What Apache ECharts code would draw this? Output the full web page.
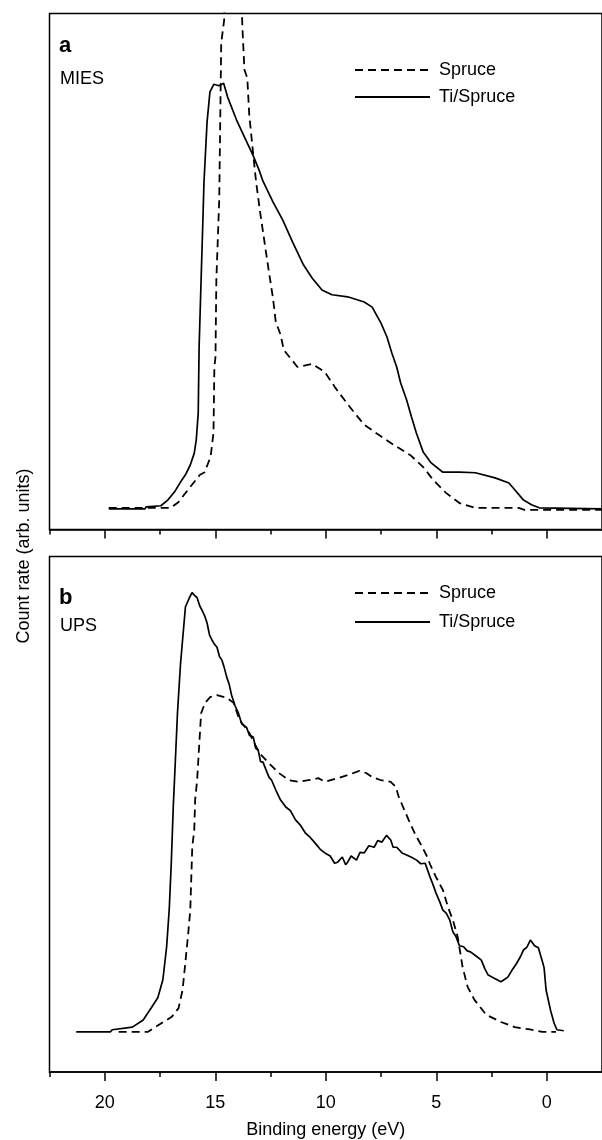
<!DOCTYPE html>
<html lang="en">
<head>
    <meta charset="UTF-8">
    <title>MIES / UPS spectra</title>
    <script src="https://cdn.jsdelivr.net/npm/echarts@6/dist/echarts.min.js"></script>
    <style>
        html, body { margin: 0; padding: 0; background: #fff; }
        #main { width: 602px; height: 1140px; }
    </style>
</head>
<body>
<div id="main"></div>
<script>
    // ---- panel a : MIES ----
    var miesSpruceE = [19.82, 17.02, 16.67, 16.14, 15.69, 15.48, 15.21, 15.08, 15.04, 14.99, 14.95, 14.82, 14.73, 14.60, 14.17,
        13.77, 13.68, 13.55, 13.46, 13.28, 13.15, 12.97, 12.84, 12.62, 12.39, 12.26, 12.04, 11.90, 11.28, 10.61, 10.04,
        9.59, 9.15, 8.70, 8.26, 7.59, 6.92, 6.17, 5.59, 5.14, 4.56, 3.94, 3.23, 1.27, 1.01, -2.5];
    var miesSpruceY = [4.2, 4.2, 5.3, 8.2, 10.6, 11.1, 14.1, 18.7, 31.5, 33.4, 48.4, 63.9, 94.3, 98.6, 150,
        97.2, 89.1, 87.5, 80.3, 72.6, 67.3, 61.5, 57.7, 51.3, 44.9, 40.2, 37.7, 34.8, 31.5, 32.1, 30.5,
        27.6, 25.1, 22.6, 20.3, 18.3, 16.4, 14.4, 12.1, 9.6, 7.1, 5.1, 4.2, 4.2, 3.8, 3.8];

    var miesTiE = [19.82, 18.18, 18.13, 17.46, 17.15, 16.84, 16.57, 16.35, 16.13, 15.95, 15.86, 15.77, 15.73, 15.64, 15.55,
        15.51, 15.37, 15.24, 15.06, 14.84, 14.62, 14.44, 14.04, 13.64, 13.28, 13.02, 12.84, 12.39, 11.95, 11.50, 11.01,
        10.61, 10.17, 9.72, 9.01, 8.26, 7.90, 7.50, 7.23, 7.01, 6.79, 6.61, 6.34, 6.12, 5.90, 5.59, 5.23, 4.70, 3.94,
        3.23, 2.34, 1.71, 1.45, 1.05, 0.69, 0.34, -2.5];
    var miesTiY = [4.0, 4.0, 4.4, 4.6, 5.7, 7.3, 9.2, 10.6, 12.5, 14.8, 17.3, 22.6, 35.4, 48.4, 61.3,
        67.3, 79.0, 84.8, 86.3, 86.0, 86.5, 83.8, 79.4, 75.7, 72.4, 69.7, 67.5, 63.5, 60.0, 55.7, 51.3,
        48.7, 46.4, 45.5, 45.1, 44.1, 43.1, 40.0, 37.3, 34.2, 31.5, 28.4, 25.1, 21.8, 18.7, 15.0, 12.9, 11.1, 11.1,
        11.0, 10.0, 9.0, 7.7, 5.7, 4.8, 4.2, 4.0];

    // ---- panel b : UPS ----
    var upsSpruceE = [19.37, 18.04, 17.42, 16.97, 16.66, 16.48, 16.40, 16.31, 16.22, 16.13, 16.04, 15.95, 15.91, 15.82, 15.73,
        15.64, 15.46, 15.24, 14.92, 14.48, 14.17, 13.90, 13.46, 13.01, 12.57, 12.12, 11.67, 11.23, 10.79, 10.34, 10.04,
        9.45, 9.01, 8.48, 8.17, 7.90, 7.50, 7.06, 6.83, 6.70, 6.48, 6.25, 5.94, 5.68, 5.45, 5.27, 5.01, 4.70, 4.47,
        4.25, 4.03, 3.81, 3.58, 3.27, 2.74, 2.07, 1.45, 0.83, 0.20, -0.42];
    var upsSpruceY = [7.8, 7.8, 9.5, 10.7, 12.4, 15.9, 19.2, 23.1, 27.0, 31.4, 43.7, 46.9, 52.8, 56.6, 63.1,
        69.6, 71.6, 72.7, 73.1, 72.6, 71.6, 68.3, 65.8, 61.9, 59.9, 58.0, 56.6, 56.3, 56.6, 57.0, 56.3,
        57.0, 57.6, 58.4, 58.0, 57.2, 56.6, 56.3, 55.3, 53.4, 51.2, 48.9, 46.0, 44.0, 42.1, 40.2, 37.8, 35.3, 32.0,
        29.5, 26.2, 20.4, 16.5, 14.0, 11.1, 9.7, 8.7, 8.3, 7.8, 7.8];

    var upsTiE = [21.29, 19.74, 19.66, 18.75, 18.26, 17.90, 17.60, 17.37, 17.20, 17.08, 16.99, 16.90, 16.81, 16.71, 16.57,
        16.44, 16.35, 16.17, 16.05, 15.95, 15.82, 15.70, 15.60, 15.48, 15.37, 15.26, 15.15, 15.04, 14.92, 14.81, 14.70,
        14.59, 14.48, 14.37, 14.26, 14.10, 13.95, 13.80, 13.59, 13.45, 13.28, 13.17, 13.06, 12.95, 12.84, 12.72, 12.57,
        12.45, 12.26, 12.05, 11.81, 11.60, 11.37, 11.15, 10.93, 10.70, 10.48, 10.25, 10.04, 9.80, 9.60, 9.46, 9.25,
        9.10, 9.01, 8.85, 8.61, 8.45, 8.26, 8.05, 7.81, 7.65, 7.46, 7.25, 7.06, 6.95, 6.79, 6.55, 6.34, 6.10, 5.89,
        5.70, 5.50, 5.28, 5.15, 5.01, 4.85, 4.70, 4.55, 4.39, 4.25, 4.12, 3.95, 3.76, 3.60, 3.45, 3.20, 2.96, 2.80,
        2.65, 2.38, 2.07, 1.90, 1.76, 1.55, 1.36, 1.20, 1.05, 0.90, 0.74, 0.55, 0.38, 0.20, 0.12, 0.03, -0.17, -0.33,
        -0.46, -0.77];
    var upsTiY = [7.8, 7.8, 8.2, 8.7, 10.1, 12.4, 14.4, 17.9, 24.3, 31.7, 40.5, 51.4, 59.9, 69.6, 79.3,
        85.7, 90.2, 92.0, 93.0, 92.5, 92.0, 90.4, 89.6, 88.5, 87.1, 84.8, 83.8, 83.0, 82.4, 80.6, 79.9,
        78.4, 76.6, 75.2, 73.1, 71.0, 69.6, 67.5, 66.9, 65.3, 65.0, 62.8, 62.5, 60.2, 60.1, 58.8, 57.2,
        56.6, 54.7, 52.8, 51.4, 50.7, 48.9, 47.9, 46.4, 45.5, 44.4, 43.2, 42.5, 41.9, 40.5, 40.7, 41.7,
        40.2, 40.7, 41.9, 41.1, 42.6, 42.5, 43.9, 43.6, 44.9, 44.6, 45.9, 45.0, 43.6, 43.6, 42.5, 42.1, 41.6, 41.1,
        40.4, 40.5, 37.8, 36.4, 34.7, 33.1, 31.4, 30.8, 29.5, 27.2, 26.4, 24.5, 24.3, 23.5, 23.3, 22.5, 21.7, 20.0,
        18.8, 18.2, 17.5, 18.0, 18.4, 19.9, 21.1, 22.3, 23.7, 24.2, 25.6, 24.5, 24.1, 21.5, 20.2, 15.9, 12.0, 9.5,
        8.2, 8.0];

    var majorTicks = [0, 5, 10, 15, 20];
    var minorTicks = [2.5, 7.5, 12.5, 17.5, 22.5];
    var seriesNames = ['Spruce', 'Ti/Spruce'];

    function pairs(xs, ys) {
        return xs.map(function (x, i) { return [x, ys[i]]; });
    }

    var font = "'Liberation Sans', Arial, sans-serif";
    var black = '#000';

    function xAxisFor(grid, ticks, len, labels) {
        return {
            type: 'value', gridIndex: grid, position: 'bottom', inverse: true,
            min: -2.5, max: 22.5,
            axisLine: { show: len > 6, lineStyle: { color: black, width: 1.5 } },
            axisTick: { show: true, customValues: ticks, length: len, lineStyle: { color: black, width: 1.5 } },
            axisLabel: labels ? {
                show: true, customValues: ticks, margin: 22,
                color: black, fontSize: 18, fontFamily: font
            } : { show: false },
            splitLine: { show: false }
        };
    }

    var xAxes = [
        xAxisFor(0, majorTicks, 9, false),
        xAxisFor(0, minorTicks, 5, false),
        xAxisFor(1, majorTicks, 9, true),
        xAxisFor(1, minorTicks, 5, false)
    ];
    xAxes[2].name = 'Binding energy (eV)';
    xAxes[2].nameLocation = 'middle';
    xAxes[2].nameGap = 49;
    xAxes[2].nameTextStyle = { color: black, fontSize: 18, fontFamily: font };

    function yAxisFor(grid) {
        return { type: 'value', gridIndex: grid, min: 0, max: 100, show: false };
    }

    function lineSeries(name, data, xi, yi, dashed) {
        return {
            name: name, type: 'line', data: data,
            xAxisIndex: xi, yAxisIndex: yi,
            symbol: 'none', clip: true, smooth: false,
            lineStyle: { color: black, width: dashed ? 1.8 : 1.7, type: dashed ? [8, 5] : 'solid' },
            itemStyle: { color: black }
        };
    }

    function legendFor(top, gap) {
        return {
            orient: 'vertical', left: 354, top: top, padding: 0,
            itemWidth: 75, itemHeight: 18, itemGap: gap,
            data: seriesNames, selectedMode: false,
            itemStyle: { opacity: 0 },
            textStyle: { color: black, fontSize: 18, fontFamily: font, lineHeight: 18, padding: [0, 0, 0, 4] }
        };
    }

    var chart = echarts.init(document.getElementById('main'));
    chart.setOption({
        animation: false,
        backgroundColor: '#fff',
        grid: [
            { left: 49.5, top: 13.5, width: 562, height: 516, show: true, borderColor: black, borderWidth: 1.5, containLabel: false },
            { left: 49.5, top: 556.5, width: 562, height: 515.5, show: true, borderColor: black, borderWidth: 1.5, containLabel: false }
        ],
        legend: [legendFor(61, 9), legendFor(584, 11)],
        xAxis: xAxes,
        yAxis: [yAxisFor(0), yAxisFor(1)],
        graphic: [
            { type: 'text', x: 59, y: 35, style: { text: 'a', font: 'bold 22px ' + font, fill: black, verticalAlign: 'alphabetic' } },
            { type: 'text', x: 60, y: 70, style: { text: 'MIES', font: '18px ' + font, fill: black, verticalAlign: 'alphabetic' } },
            { type: 'text', x: 59, y: 587, style: { text: 'b', font: 'bold 22px ' + font, fill: black, verticalAlign: 'alphabetic' } },
            { type: 'text', x: 60, y: 617, style: { text: 'UPS', font: '18px ' + font, fill: black, verticalAlign: 'alphabetic' } },
            {
                type: 'text', x: 24, y: 556, rotation: Math.PI / 2,
                style: { text: 'Count rate (arb. units)', font: '18px ' + font, fill: black, align: 'center', verticalAlign: 'middle' }
            }
        ],
        series: [
            lineSeries('Spruce', pairs(miesSpruceE, miesSpruceY), 0, 0, true),
            lineSeries('Ti/Spruce', pairs(miesTiE, miesTiY), 0, 0, false),
            lineSeries('Spruce', pairs(upsSpruceE, upsSpruceY), 2, 1, true),
            lineSeries('Ti/Spruce', pairs(upsTiE, upsTiY), 2, 1, false)
        ]
    });
</script>
</body>
</html>
